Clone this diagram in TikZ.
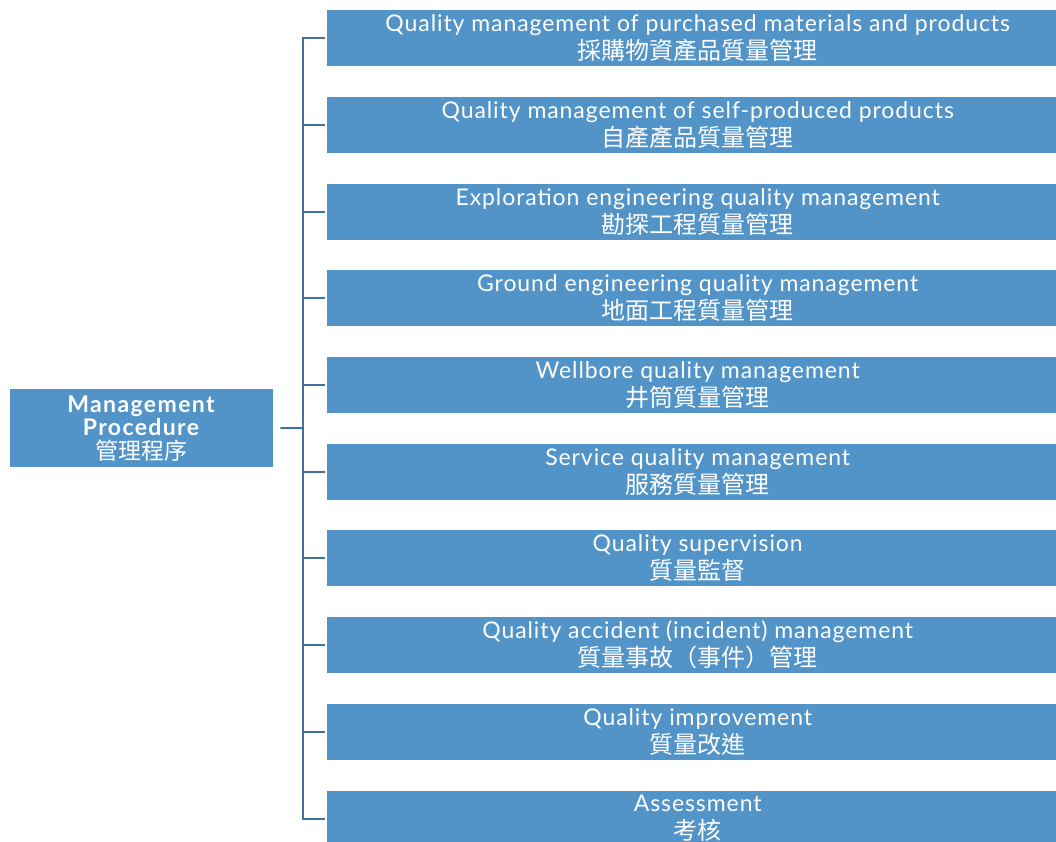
\documentclass[tikz,border=0pt]{standalone}
\usepackage{fontspec}
\setmainfont{Lato}
\newfontfamily\lat{Lato}[LetterSpace=4]
\newfontfamily\latb{Lato}[LetterSpace=6]
\newfontfamily\cjk{Noto Sans CJK TC}
\definecolor{boxblue}{HTML}{5294C8}
\definecolor{lineblue}{HTML}{41719C}
\newcommand{\cjkline}[1]{{\fontsize{24}{28}\cjk #1}}
\newcommand{\cjkroot}[1]{{\fontsize{23}{24}\cjk #1}}
\begin{document}
\begin{tikzpicture}[x=1pt,y=-1pt,
  item/.style={rectangle,fill=boxblue,draw=none,anchor=north west,minimum width=729pt,minimum height=56pt,inner sep=0pt},
  itemtext/.style={inner sep=0pt,text=white,align=center,font=\fontsize{23}{28}\lat},
  rootbox/.style={rectangle,fill=boxblue,draw=none,anchor=north west,minimum width=263pt,minimum height=78pt,inner sep=0pt,text=white,align=center,font=\fontsize{23}{23.5}\latb},
  conn/.style={draw=lineblue,line width=2pt}]
\useasboundingbox (0,0) rectangle (1056,842);
\clip (0,0) rectangle (1056,842);
\node[rootbox] (root) at (10,389) {\textbf{Management}\\\textbf{Procedure}\\\cjkroot{管理程序}};
\coordinate (bus) at (303,428);
\coordinate (bustop) at (303,38);
\coordinate (busbot) at (303,818);
\foreach \i/\en/\zh [evaluate=\i as \top using {10+(\i-1)*86.7}] in {
  1/Quality management of purchased materials and products/採購物資產品質量管理,
  2/Quality management of self-produced products/自產產品質量管理,
  3/Exploration engineering quality management/勘探工程質量管理,
  4/Ground engineering quality management/地面工程質量管理,
  5/Wellbore quality management/井筒質量管理,
  6/Service quality management/服務質量管理,
  7/Quality supervision/質量監督,
  8/Quality accident (incident) management/質量事故（事件）管理,
  9/Quality improvement/質量改進,
  10/Assessment/考核} {
  \node[item] (b\i) at (327,\top) {};
  \node[itemtext] (t\i) at ([xshift=6pt]b\i.center) {\en\\\cjkline{\zh}};
}
\draw[conn] ([xshift=7pt]root.east) -- (bus);
\draw[conn] (bustop) -- (busbot);
\foreach \i in {1,...,10} {
  \draw[conn,line cap=rect] (bus |- b\i.west) -- ([xshift=-3pt]b\i.west);
}
\end{tikzpicture}
\end{document}
